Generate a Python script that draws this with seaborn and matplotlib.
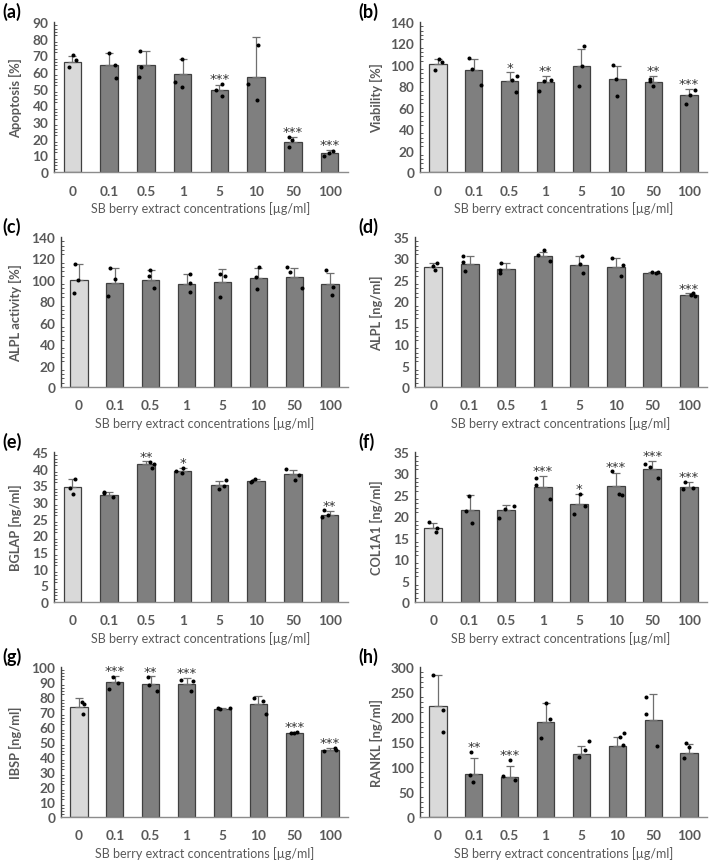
import numpy as np
import pandas as pd
import matplotlib
matplotlib.use("Agg")
import matplotlib.pyplot as plt
import seaborn as sns
from matplotlib.ticker import MultipleLocator, AutoMinorLocator

# ---------------- data ----------------
concentrations = ["0", "0.1", "0.5", "1", "5", "10", "50", "100"]

apoptosis_mean = [66, 64, 64.4, 59, 49.4, 57, 18, 11.6]
apoptosis_sd = [3.4, 7.5, 8, 9, 3, 24, 3, 1.6]
apoptosis_pts = [[70, 67, 63], [71.4, 64, 56.4], [72.4, 63, 57], [67.6, 54, 51.2],
                 [52.8, 49.4, 45.8], [76.4, 52.8, 43], [21, 19.2, 14.8], [12.8, 11.6, 9.6]]
apoptosis_sig = ["", "", "", "", "***", "", "***", "***"]

viability_mean = [100.6, 94.8, 85, 83.7, 99, 86.8, 84, 71.7]
viability_sd = [5, 11, 8, 6, 16, 12.6, 5.5, 6]
viability_pts = [[105.5, 102.5, 94.8], [106, 96.3, 81.2], [89.5, 85.5, 74.5], [86, 84.6, 75.4],
                 [117.8, 98.5, 80.6], [99.7, 87, 70.5], [87, 85.2, 80], [77, 72, 63.7]]
viability_sig = ["", "", "*", "**", "", "", "**", "***"]

alpl_act_mean = [100.2, 97.4, 100, 96, 98.3, 101.4, 102.7, 96]
alpl_act_sd = [14.5, 13.5, 9, 9.5, 11.5, 9.4, 8, 10.4]
alpl_act_pts = [[115, 99.6, 87.7], [111, 100.5, 84.6], [109, 103.6, 92], [105.8, 97.4, 89],
                [105.8, 103.6, 84], [112, 102.7, 91.8], [112, 107, 92.7], [109.5, 93.3, 86]]
alpl_act_sig = ["", "", "", "", "", "", "", ""]

alpl_mean = [28.1, 28.75, 27.5, 30.6, 28.5, 28, 26.7, 21.5]
alpl_sd = [0.8, 1.85, 1.4, 1.0, 2.0, 2.1, 0.2, 0.4]
alpl_pts = [[28.9, 28.3, 27.2], [30.5, 29.1, 27], [28.9, 27.3, 26.7], [31.9, 30.7, 29.5],
            [30.5, 28.75, 26.6], [30.1, 28.5, 25.8], [26.6, 26.9, 26.9], [21.9, 21.5, 21.25]]
alpl_sig = ["", "", "", "", "", "", "", "***"]

bglap_mean = [34.5, 32.2, 41.3, 39.3, 35, 36.3, 38.5, 26]
bglap_sd = [2.5, 0.8, 0.9, 0.9, 1.4, 0.7, 1.2, 1.2]
bglap_pts = [[36.8, 34.2, 32.3], [33, 32.7, 31.4], [42, 41.3, 40.2], [40.3, 39.2, 38.7],
             [36.6, 34.8, 34], [37, 36.3, 36], [39.9, 38, 36.5], [27.5, 26, 25.4]]
bglap_sig = ["", "", "**", "*", "", "", "", "**"]

col1a1_mean = [17.3, 21.5, 21.5, 26.8, 22.8, 27.1, 31, 26.8]
col1a1_sd = [1.1, 3.5, 1.2, 2.7, 2.5, 3.1, 2.0, 1.2]
col1a1_pts = [[18.7, 17.3, 16.3], [24.8, 21.3, 18.4], [22.5, 21.8, 19.5], [28.9, 27.2, 24.1],
              [25.3, 22.5, 20.5], [30.5, 25.2, 25], [31.4, 32.3, 28.9], [28, 26.6, 26.3]]
col1a1_sig = ["", "", "", "***", "*", "***", "***", "***"]

ibsp_mean = [73.3, 90, 88.7, 88.9, 72.2, 75.3, 56.2, 44.9]
ibsp_sd = [6, 4.2, 5.1, 4.0, 0.3, 5.7, 0.7, 1.1]
ibsp_pts = [[76.7, 75.5, 68.7], [93.3, 89.6, 85.6], [93.1, 88, 84.2], [91.1, 90.4, 84.2],
            [72.4, 72.2, 72.4], [79.3, 77.3, 68.7], [56.4, 56, 56], [46, 44.9, 43.8]]
ibsp_sig = ["", "***", "**", "***", "", "", "***", "***"]

rankl_mean = [223, 87, 80.4, 190.9, 127, 142.7, 194, 127.9]
rankl_sd = [61.7, 32, 22.6, 36.8, 15, 18, 52, 18.1]
rankl_pts = [[284.7, 213.7, 170.8], [130, 83.7, 70.3], [113.9, 82.4, 73.7], [227.7, 196.2, 157.4],
             [152, 134, 120.6], [167.5, 160.7, 144], [239.8, 206.3, 142], [147.4, 140.7, 119]]
rankl_sig = ["", "**", "***", "", "", "", "", ""]

panel_letters = ["(a)", "(b)", "(c)", "(d)", "(e)", "(f)", "(g)", "(h)"]
y_labels = ["Apoptosis [%]", "Viability [%]", "ALPL activity [%]", "ALPL [ng/ml]",
            "BGLAP [ng/ml]", "COL1A1 [ng/ml]", "IBSP [ng/ml]", "RANKL [ng/ml]"]
y_max = [90, 140, 140, 35, 45, 35, 100, 300]
y_step = [10, 20, 20, 5, 5, 5, 10, 50]
x_label = "SB berry extract concentrations [µg/ml]"

panels = [
    (apoptosis_mean, apoptosis_sd, apoptosis_pts, apoptosis_sig),
    (viability_mean, viability_sd, viability_pts, viability_sig),
    (alpl_act_mean, alpl_act_sd, alpl_act_pts, alpl_act_sig),
    (alpl_mean, alpl_sd, alpl_pts, alpl_sig),
    (bglap_mean, bglap_sd, bglap_pts, bglap_sig),
    (col1a1_mean, col1a1_sd, col1a1_pts, col1a1_sig),
    (ibsp_mean, ibsp_sd, ibsp_pts, ibsp_sig),
    (rankl_mean, rankl_sd, rankl_pts, rankl_sig),
]

# ---------------- style ----------------
sns.set_style("white")
plt.rcParams["font.family"] = ["Lato", "DejaVu Sans"]
GREY_TXT = "#595959"

W, H = 713, 862
fig = plt.figure(figsize=(W / 100, H / 100), dpi=100)

lefts = [54, 420, 61, 415, 54, 415, 61, 420]
rights = [348, 707, 348, 707, 348, 707, 348, 707]
tops = [23, 23, 238, 238, 453, 453, 668, 668]
ax_h = 150
ylabel_x = [22, 383, 22, 383, 22, 383, 22, 383]
letter_x = [2, 358, 2, 358, 2, 358, 2, 358]

bar_colors = ["#d9d9d9"] + ["#7f7f7f"] * 7

np.random.seed(3)
for i, (means, sds, pts, sig) in enumerate(panels):
    l, r, t = lefts[i], rights[i], tops[i]
    ax = fig.add_axes([l / W, 1 - (t + ax_h) / H, (r - l) / W, ax_h / H])

    sns.barplot(x=concentrations, y=means, hue=concentrations, palette=bar_colors,
                legend=False, width=0.48, edgecolor="#404040", linewidth=0.9,
                ax=ax, zorder=2)
    xpos = np.arange(len(concentrations))
    ax.errorbar(xpos, means, yerr=[np.zeros(len(sds)), sds], fmt="none",
                ecolor="#6f6f6f", elinewidth=0.9, capsize=3, capthick=0.9, zorder=3)

    long = pd.DataFrame({
        "conc": [c for c, p in zip(concentrations, pts) for _ in p],
        "value": [v for p in pts for v in p],
    })
    sns.stripplot(data=long, x="conc", y="value", order=concentrations, color="black",
                  size=2.9, jitter=0.22, ax=ax, zorder=4)

    for j, s in enumerate(sig):
        if s:
            top = max(means[j] + sds[j], max(pts[j]))
            ax.annotate(s, (j, top), xytext=(0, -1.0), textcoords="offset points",
                        ha="center", va="bottom", fontsize=9.5,
                        family=["DejaVu Sans"], color="#333333", annotation_clip=False)

    ax.set_xlim(-0.5, len(concentrations) - 0.5)
    ax.set_ylim(0, y_max[i])
    ax.yaxis.set_major_locator(MultipleLocator(y_step[i]))
    ax.yaxis.set_minor_locator(AutoMinorLocator(5))
    for sp in ["top", "right"]:
        ax.spines[sp].set_visible(False)
    ax.spines["left"].set_color("#404040")
    ax.spines["left"].set_linewidth(1.0)
    ax.spines["bottom"].set_color("#8c8c8c")
    ax.spines["bottom"].set_linewidth(1.0)
    ax.tick_params(axis="y", which="major", direction="in", length=3.5, width=0.8,
                   color="#404040", labelsize=9.8, labelcolor=GREY_TXT, pad=4)
    ax.tick_params(axis="y", which="minor", direction="in", length=2.5, width=0.6,
                   color="#404040", left=True)
    ax.tick_params(axis="x", length=0, labelsize=9.8, labelcolor=GREY_TXT, pad=9)
    for lab in ax.get_yticklabels() + ax.get_xticklabels():
        lab.set_fontweight("bold")
    ax.set_xlabel(x_label, fontsize=9.0, color=GREY_TXT, labelpad=3)
    ax.set_ylabel(y_labels[i], fontsize=9.3, color=GREY_TXT, fontweight="bold")
    ax.yaxis.set_label_coords((ylabel_x[i] - l) / (r - l), 0.5)
    ax.grid(False)

    fig.text(letter_x[i] / W, 1 - (t - 20) / H, panel_letters[i], ha="left", va="top",
             fontsize=13, fontweight="bold", color="black")

fig.savefig("out.png", dpi=100)
